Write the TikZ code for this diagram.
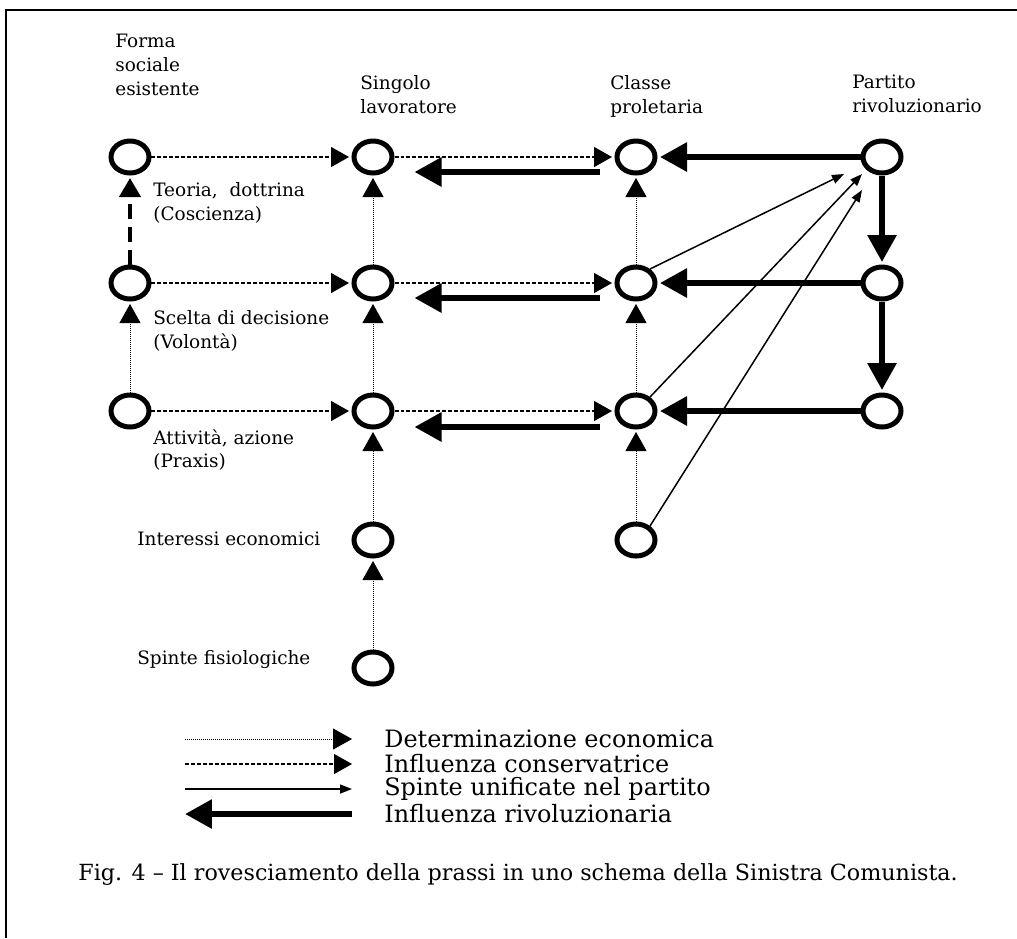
\documentclass[tikz,border=0pt]{standalone}
\usepackage{fontspec}
\setmainfont{DejaVu Serif}
\usetikzlibrary{arrows.meta,shapes.geometric}

\begin{document}
\begin{tikzpicture}[x=.02cm,y=-.02cm,
                    oval/.style={ellipse,draw,line width=.1cm,minimum width=.76cm,minimum height=.64cm,inner sep=0pt},
                    econ/.style={line width=.02cm,dash pattern=on .02cm off .02cm,-{Triangle[length=.38cm,width=.42cm]},shorten >=.05cm},
                    cons/.style={line width=.025cm,dash pattern=on .08cm off .04cm,-{Triangle[length=.36cm,width=.4cm]},shorten >=.05cm},
                    theo/.style={line width=.08cm,dash pattern=on .3cm off .16cm,-{Triangle[length=.38cm,width=.42cm]},shorten >=.05cm},
                    unif/.style={line width=.03cm,-{Triangle[length=.24cm,width=.18cm]}},
                    rev/.style={line width=.12cm,-{Triangle[length=.54cm,width=.56cm]},shorten >=.05cm},
                    lbl/.style={font=\fontsize{10.5}{13.6}\selectfont,inner sep=0pt,align=left,anchor=north west},
                    leg/.style={font=\fontsize{13.6}{16}\selectfont,inner sep=0pt,anchor=west}]
 \useasboundingbox (0,0) rectangle (1017,938);
 \draw[line width=.03cm] (6,938) -- (6,10) -- (1017,10);
 % column heads
 \node[lbl] (hfs) at (115,34) {Forma\\sociale\\esistente};
 \node[lbl] (hsl) at (360,75) {Singolo\\lavoratore};
 \node[lbl] (hcp) at (610,75) {Classe\\proletaria};
 \node[lbl] (hpr) at (852,75) {Partito\\rivoluzionario};
 % row texts
 \node[lbl] (tteo) at (153,182) {Teoria,~ dottrina\\(Coscienza)};
 \node[lbl] (tsce) at (153,310) {Scelta di decisione\\(Volontà)};
 \node[lbl] (tatt) at (153,429) {Attività, azione\\(Praxis)};
 \node[lbl] (tint) at (137,532) {Interessi economici};
 \node[lbl] (tspi) at (137,650) {Spinte fisiologiche};
 % ovals
 \node[oval] (fs1) at (130,157) {}; \node[oval] (fs2) at (130,283) {}; \node[oval] (fs3) at (130,411) {};
 \node[oval] (sl1) at (373,157) {}; \node[oval] (sl2) at (373,283) {}; \node[oval] (sl3) at (373,411) {};
 \node[oval] (sl4) at (373,540) {}; \node[oval] (sl5) at (373,668) {};
 \node[oval] (cp1) at (636,157) {}; \node[oval] (cp2) at (636,283) {}; \node[oval] (cp3) at (636,411) {};
 \node[oval] (cp4) at (636,540) {};
 \node[oval] (pr1) at (882,157) {}; \node[oval] (pr2) at (882,283) {}; \node[oval] (pr3) at (882,411) {};
 % economic determination
 \draw[econ] (fs3.north) -- (fs2.south);
 \draw[econ] (sl5.north) -- (sl4.south);
 \draw[econ] (sl4.north) -- (sl3.south);
 \draw[econ] (sl3.north) -- (sl2.south);
 \draw[econ] (sl2.north) -- (sl1.south);
 \draw[econ] (cp4.north) -- (cp3.south);
 \draw[econ] (cp3.north) -- (cp2.south);
 \draw[econ] (cp2.north) -- (cp1.south);
 \draw[theo] (fs2.north) -- (fs1.south);
 % conservative influence
 \draw[cons] (fs1.east) -- (sl1.west); \draw[cons] (sl1.east) -- (cp1.west);
 \draw[cons] (fs2.east) -- (sl2.west); \draw[cons] (sl2.east) -- (cp2.west);
 \draw[cons] (fs3.east) -- (sl3.west); \draw[cons] (sl3.east) -- (cp3.west);
 % revolutionary influence
 \draw[rev] (pr1.west) -- (cp1.east);
 \draw[rev] (pr2.west) -- (cp2.east);
 \draw[rev] (pr3.west) -- (cp3.east);
 \draw[rev] (pr1.south) -- (pr2.north);
 \draw[rev] (pr2.south) -- (pr3.north);
 \coordinate (q1s) at (600,172); \coordinate (q1e) at (412,172);
 \coordinate (q2s) at (600,298); \coordinate (q2e) at (412,298);
 \coordinate (q3s) at (600,427); \coordinate (q3e) at (412,427);
 \draw[rev] (q1s) -- (q1e);
 \draw[rev] (q2s) -- (q2e);
 \draw[rev] (q3s) -- (q3e);
 % unified drives
 \coordinate (u1) at (844,174); \coordinate (u2) at (862,174); \coordinate (u3) at (862,190);
 \draw[unif] (cp2.45) -- (u1);
 \draw[unif] (cp3.45) -- (u2);
 \draw[unif] (cp4.45) -- (u3);
 % legend
 \coordinate (k1a) at (185,739); \coordinate (k1b) at (352,739);
 \coordinate (k2a) at (185,764); \coordinate (k2b) at (352,764);
 \coordinate (k3a) at (185,789); \coordinate (k3b) at (352,789);
 \coordinate (k4a) at (185,814); \coordinate (k4b) at (352,814);
 \draw[econ,shorten >=0pt] (k1a) -- (k1b);
 \draw[cons,shorten >=0pt] (k2a) -- (k2b);
 \draw[unif] (k3a) -- (k3b);
 \draw[rev,shorten >=0pt] (k4b) -- (k4a);
 \node[leg] (l1) at (384,739) {Determinazione economica};
 \node[leg] (l2) at (384,764) {Influenza conservatrice};
 \node[leg] (l3) at (384,789) {Spinte unificate nel partito};
 \node[leg] (l4) at (384,814) {Influenza rivoluzionaria};
 \node[leg,font=\fontsize{12.65}{16}\selectfont] (cap) at (78,875) {Fig. 4 – Il rovesciamento della prassi in uno schema della Sinistra Comunista.};
\end{tikzpicture}
\end{document}
